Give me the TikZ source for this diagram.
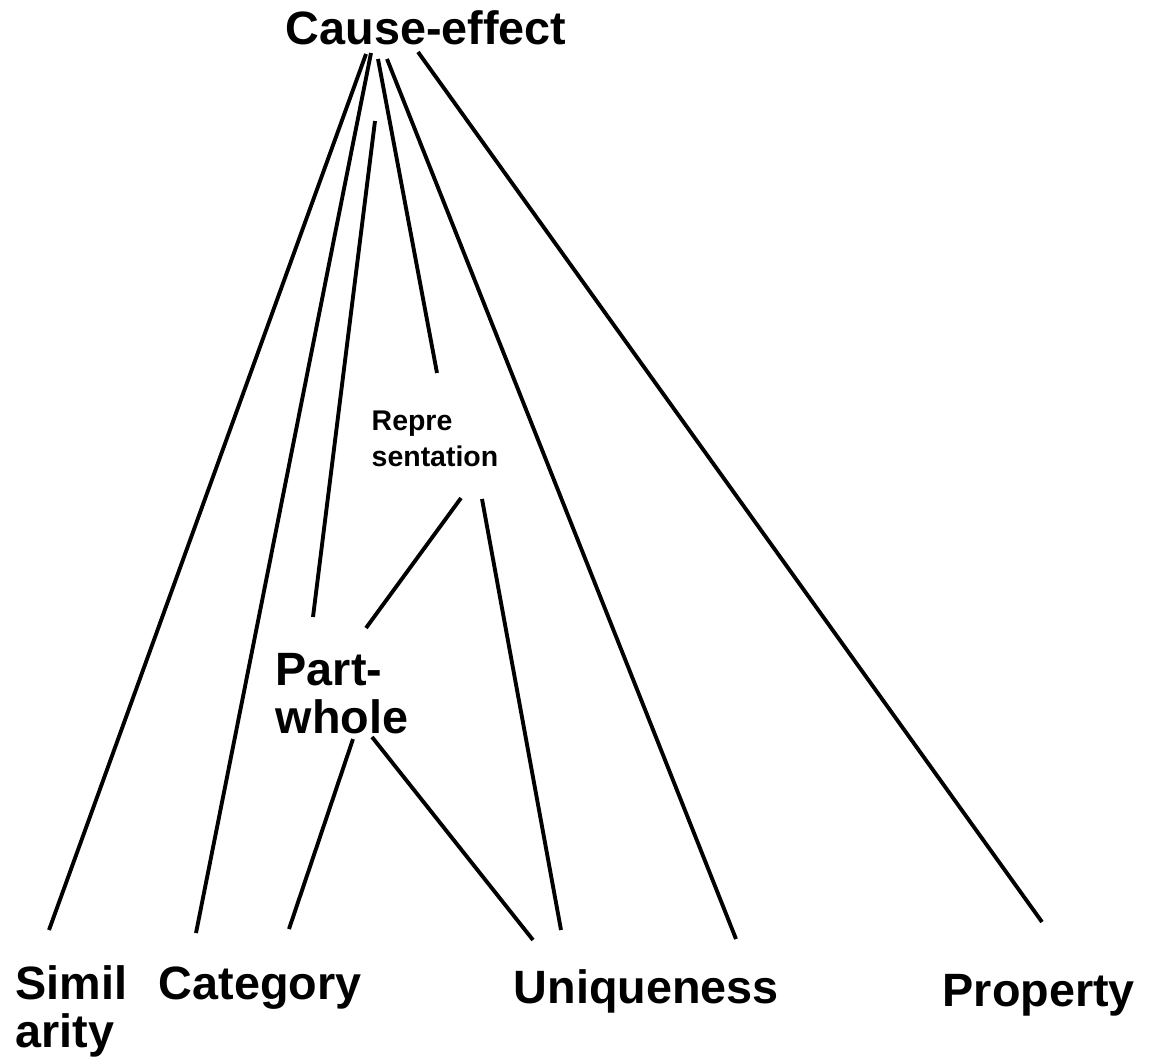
\documentclass[tikz,border=0pt]{standalone}
\usepackage{fontspec}
\setmainfont{Liberation Sans}
\begin{document}
\begin{tikzpicture}[
    big/.style={inner sep=0pt, align=left, font=\fontsize{13.3}{13.6}\selectfont\bfseries},
    small/.style={inner sep=0pt, align=left, font=\fontsize{8.1}{10.2}\selectfont\bfseries},
    link/.style={line width=1.1pt}]
    \useasboundingbox (0,0) rectangle (11.53,10.62);

    \draw (4.26,10.17) node[big, anchor=base] (cause) {Cause-effect};
    \draw (3.71,5.96) node[small, anchor=base west] (repr) {Repre\\sentation};
    \draw (2.75,3.29) node[big, anchor=base west] (part) {Part-\\whole};
    \draw (0.15,0.15) node[big, anchor=base west] (simil) {Simil\\arity};
    \draw (1.58,0.63) node[big, anchor=base west] (cat) {Category};
    \draw (5.13,0.59) node[big, anchor=base west] (uniq) {Uniqueness};
    \draw (9.42,0.56) node[big, anchor=base west] (prop) {Property};

    % line ends, left free as in the sketch
    \coordinate (ce-simil) at (3.66,10.08);
    \coordinate (ce-cat) at (3.71,10.09);
    \coordinate (ce-part) at (3.75,9.41);
    \coordinate (ce-repr) at (3.78,10.03);
    \coordinate (ce-uniq) at (3.87,10.03);
    \coordinate (ce-prop) at (4.18,10.10);
    \coordinate (repr-top) at (4.37,6.89);
    \coordinate (repr-part) at (4.61,5.64);
    \coordinate (repr-uniq) at (4.82,5.63);
    \coordinate (part-top) at (3.13,4.45);
    \coordinate (part-repr) at (3.66,4.34);
    \coordinate (part-cat) at (3.53,3.23);
    \coordinate (part-uniq) at (3.72,3.25);
    \coordinate (simil-top) at (0.49,1.32);
    \coordinate (cat-ce) at (1.96,1.29);
    \coordinate (cat-part) at (2.89,1.33);
    \coordinate (uniq-part) at (5.33,1.22);
    \coordinate (uniq-repr) at (5.61,1.32);
    \coordinate (uniq-ce) at (7.36,1.23);
    \coordinate (prop-top) at (10.42,1.40);

    \draw[link] (ce-simil) -- (simil-top);
    \draw[link] (ce-cat) -- (cat-ce);
    \draw[link] (ce-part) -- (part-top);
    \draw[link] (ce-repr) -- (repr-top);
    \draw[link] (ce-uniq) -- (uniq-ce);
    \draw[link] (ce-prop) -- (prop-top);
    \draw[link] (repr-part) -- (part-repr);
    \draw[link] (repr-uniq) -- (uniq-repr);
    \draw[link] (part-cat) -- (cat-part);
    \draw[link] (part-uniq) -- (uniq-part);
  \end{tikzpicture}
\end{document}
